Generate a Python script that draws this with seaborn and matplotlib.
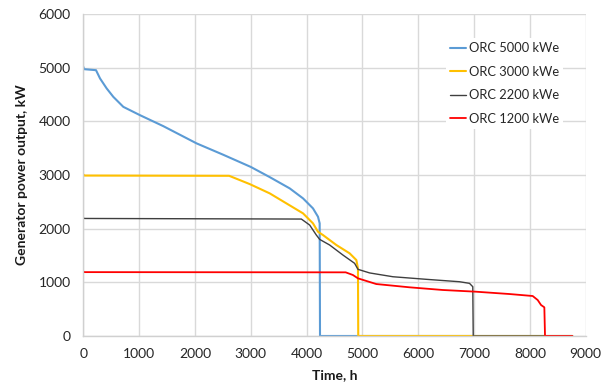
import matplotlib
matplotlib.use("Agg")
import matplotlib.pyplot as plt
import seaborn as sns
import pandas as pd

# Data (time in h, power in kW)
t_5000 = [0, 12, 227, 299, 418, 537, 716, 1014, 1431, 2029, 2500, 3000, 3340, 3698, 3936, 4114, 4204, 4234, 4240, 8760]
p_5000 = [5015, 4972, 4953, 4799, 4613, 4456, 4270, 4115, 3911, 3589, 3380, 3150, 2960, 2750, 2564, 2378, 2222, 2099, 0, 0]

t_3000 = [0, 20, 2612, 2982, 3340, 3638, 3936, 4114, 4204, 4293, 4533, 4771, 4891, 4920, 4925, 8760]
p_3000 = [3010, 2990, 2985, 2830, 2657, 2471, 2285, 2099, 1942, 1881, 1695, 1540, 1415, 1260, 0, 0]

t_2200 = [0, 20, 3906, 4055, 4174, 4234, 4413, 4651, 4860, 4920, 5129, 5546, 6143, 6739, 6918, 6977, 6985, 8760]
p_2200 = [2200, 2190, 2179, 2067, 1881, 1800, 1695, 1508, 1354, 1242, 1175, 1104, 1056, 1011, 981, 918, 0, 0]

t_1200 = [0, 20, 4700, 4830, 4920, 5248, 5844, 6440, 7037, 7633, 8050, 8140, 8200, 8259, 8271, 8760]
p_1200 = [1200, 1190, 1186, 1136, 1074, 968, 907, 857, 825, 782, 745, 670, 577, 534, 0, 0]

series_names = ["ORC 5000 kWe", "ORC 3000 kWe", "ORC 2200 kWe", "ORC 1200 kWe"]
x_ticks = [0, 1000, 2000, 3000, 4000, 5000, 6000, 7000, 8000, 9000]
y_ticks = [0, 1000, 2000, 3000, 4000, 5000, 6000]

sns.set_theme(style="white")
plt.rcParams['font.family'] = ['Lato', 'DejaVu Sans']

fig = plt.figure(figsize=(6.11, 3.91), dpi=100)
ax = fig.add_axes([0.1364, 0.1407, 0.8222, 0.8235])

styles = [("#5B9BD5", 1.5), ("#FFC000", 1.5), ("#3F3F3F", 1.0), ("#FF0000", 1.3)]
all_t = [t_5000, t_3000, t_2200, t_1200]
all_p = [p_5000, p_3000, p_2200, p_1200]
for name, t, p, (c, lw) in zip(series_names, all_t, all_p, styles):
    df = pd.DataFrame({"Time": t, "Power": p})
    sns.lineplot(data=df, x="Time", y="Power", sort=False, estimator=None,
                 color=c, linewidth=lw, label=name, ax=ax)

ax.set_xlim(0, 9000)
ax.set_ylim(0, 6000)
ax.set_xticks(x_ticks)
ax.set_yticks(y_ticks)
ax.grid(True, color="#D9D9D9", linewidth=1.0)
ax.set_axisbelow(True)
for s in ["top", "right"]:
    ax.spines[s].set_visible(False)
for s in ["left", "bottom"]:
    ax.spines[s].set_color("#D0D0D0")
    ax.spines[s].set_linewidth(1.0)
ax.tick_params(axis="both", length=0, labelsize=10, colors="#262626", pad=9)
ax.set_xlabel("Time, h", fontsize=10, fontweight="bold", color="#1a1a1a", labelpad=6)
ax.set_ylabel("Generator power output, kW", fontsize=10, fontweight="bold", color="#1a1a1a", labelpad=8)

leg = ax.legend(loc="upper left", bbox_to_anchor=(0.71, 0.945), frameon=True,
                fancybox=False, framealpha=1.0, edgecolor="none", facecolor="white",
                fontsize=9.3, handlelength=1.25, handletextpad=0.2, labelspacing=0.9,
                borderpad=0.3)
for txt in leg.get_texts():
    txt.set_color("#262626")

fig.savefig("out.png", dpi=100)
